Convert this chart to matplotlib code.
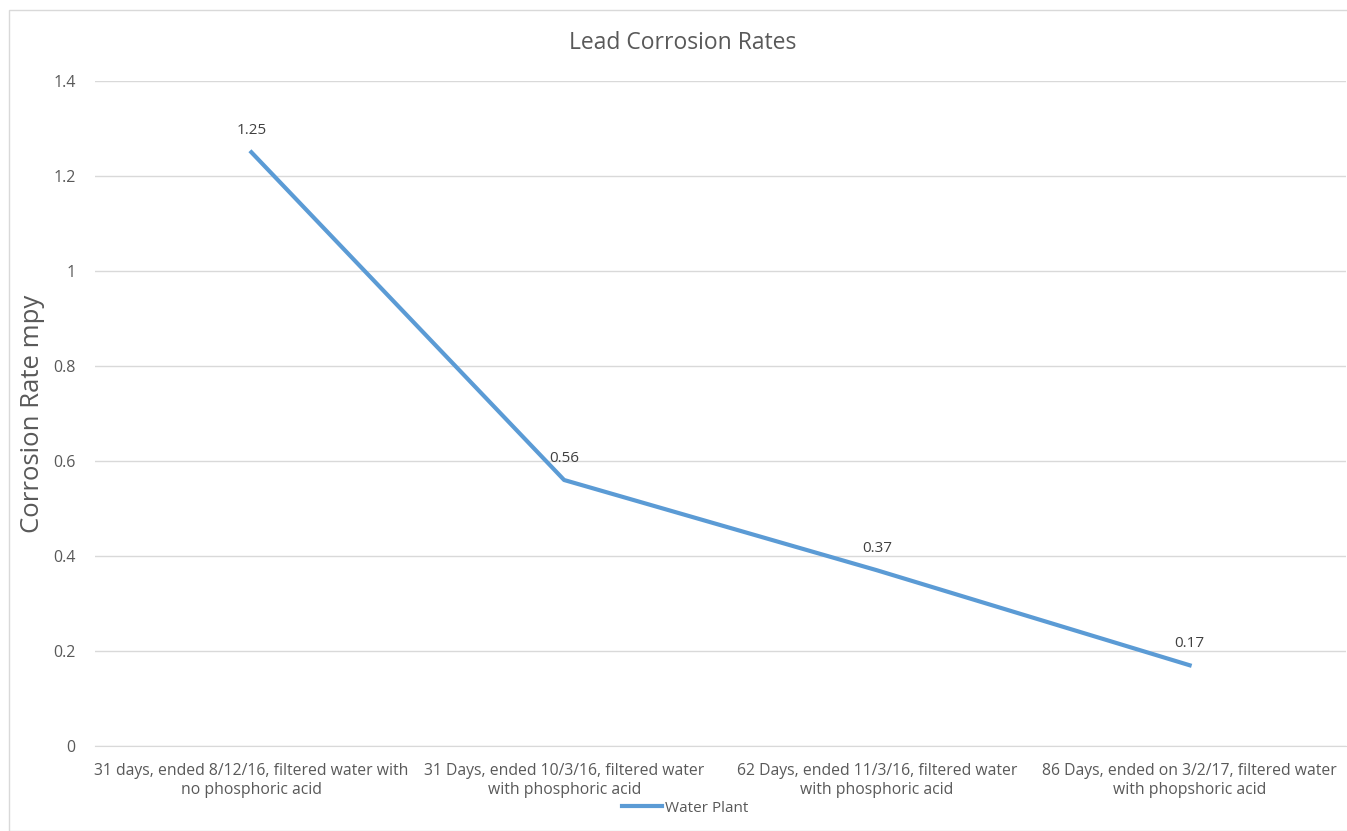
import matplotlib.pyplot as plt
from matplotlib.patches import Rectangle

categories = ["31 days, ended 8/12/16, filtered water with\nno phosphoric acid",
              "31 Days, ended 10/3/16, filtered water\nwith phosphoric acid",
              "62 Days, ended 11/3/16, filtered water\nwith phosphoric acid",
              "86 Days, ended on 3/2/17, filtered water\nwith phopshoric acid"]
rates = [1.25, 0.56, 0.37, 0.17]
yticks = [0, 0.2, 0.4, 0.6, 0.8, 1, 1.2, 1.4]

plt.rcParams['font.family'] = ['Open Sans', 'DejaVu Sans']
grey = '#595959'
blue = '#5B9BD5'

fig = plt.figure(figsize=(13.47, 8.31), dpi=100)
fig.patches.append(Rectangle((9/1347, 0), 1, 1 - 10/831, transform=fig.transFigure,
                             fill=False, edgecolor='#d9d9d9', lw=1))
ax = fig.add_axes([95/1347, 1 - 746/831, 1251/1347, 665/831])

x = list(range(len(rates)))
line, = ax.plot(x, rates, color=blue, lw=3, label='Water Plant')
for xi, v in zip(x, rates):
    ax.annotate(str(v), (xi, v), xytext=(0, 10), textcoords='offset points',
                ha='center', va='bottom', fontsize=11, color='#404040')

ax.set_xlim(-0.5, len(rates) - 0.5)
ax.set_ylim(0, 1.4)
ax.set_yticks(yticks)
ax.set_yticklabels([f"{t:g}" for t in yticks])
ax.set_xticks(x)
ax.set_xticklabels(categories, fontsize=11.3, color=grey, linespacing=1.25)
ax.tick_params(axis='y', length=0, pad=14, labelsize=11.5, labelcolor=grey)
ax.tick_params(axis='x', length=0, pad=12)
ax.grid(axis='y', color='#d9d9d9', lw=1)
ax.set_axisbelow(True)
for s in ['top', 'right', 'left']:
    ax.spines[s].set_visible(False)
ax.spines['bottom'].set_color('#d9d9d9')

ax.set_ylabel('Corrosion Rate mpy', fontsize=18.5, color=grey)
ax.yaxis.set_label_coords(-0.04, 0.5)
fig.text(683/1347, 1 - 43/831, 'Lead Corrosion Rates', ha='center', va='center',
         fontsize=16.5, color=grey)
fig.legend(handles=[line], loc='center', bbox_to_anchor=(685/1347, 1 - 808/831),
           frameon=False, fontsize=11, labelcolor=grey, handlelength=2.6, handletextpad=0.2)

fig.savefig('out.png', dpi=100)
